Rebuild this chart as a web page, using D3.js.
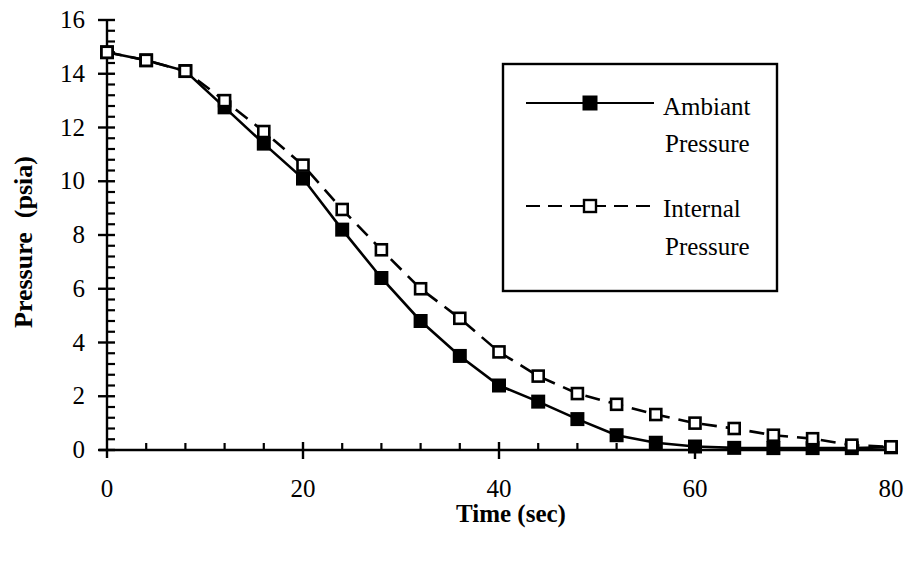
<!DOCTYPE html>
<html>
<head>
<meta charset="utf-8">
<script src="https://cdn.jsdelivr.net/npm/d3@7"></script>
<style>
  html, body { margin: 0; padding: 0; background: #fff; }
  svg { display: block; }
  text { font-family: "Liberation Serif", "Times New Roman", serif; fill: #000; }
</style>
</head>
<body>
<svg id="chart" width="909" height="562"></svg>
<script>
// ---- data ----
const time = [0, 4, 8, 12, 16, 20, 24, 28, 32, 36, 40, 44, 48, 52, 56, 60, 64, 68, 72, 76, 80];
const ambiantPressure = [14.8, 14.5, 14.1, 12.75, 11.4, 10.1, 8.2, 6.4, 4.8, 3.5, 2.4, 1.8, 1.15, 0.55, 0.27, 0.13, 0.08, 0.07, 0.07, 0.07, 0.1];
const internalPressure = [14.8, 14.5, 14.1, 13.0, 11.85, 10.6, 8.95, 7.45, 6.0, 4.9, 3.65, 2.75, 2.1, 1.7, 1.32, 1.0, 0.8, 0.55, 0.42, 0.18, 0.12];
const xTickLabels = [0, 20, 40, 60, 80];
const yTickLabels = [0, 2, 4, 6, 8, 10, 12, 14, 16];
const seriesNames = [["Ambiant", "Pressure"], ["Internal", "Pressure"]];

(function () {
const svg = d3.select("#chart");
const mLeft = 107, mRight = 891, mTop = 20, mBottom = 450;

const x = d3.scaleLinear().domain([0, 80]).range([mLeft, mRight]);
const y = d3.scaleLinear().domain([0, 16]).range([mBottom, mTop]);

const g = svg.append("g");

// axes lines
g.append("line").attr("x1", mLeft - 8).attr("x2", mRight).attr("y1", mBottom).attr("y2", mBottom)
  .attr("stroke", "#000").attr("stroke-width", 2.4);
g.append("line").attr("x1", mLeft).attr("x2", mLeft).attr("y1", mTop).attr("y2", mBottom + 8)
  .attr("stroke", "#000").attr("stroke-width", 2.4);

// x ticks: minor every 4 going up, major every 20 crossing
const xMinor = d3.range(4, 80, 4).filter(v => v % 20 !== 0);
g.selectAll(".xminor").data(xMinor).enter().append("line")
  .attr("x1", d => x(d)).attr("x2", d => x(d)).attr("y1", mBottom).attr("y2", mBottom - 7)
  .attr("stroke", "#000").attr("stroke-width", 2.2);
g.selectAll(".xmajor").data(xTickLabels.filter(v => v > 0 && v < 80)).enter().append("line")
  .attr("x1", d => x(d)).attr("x2", d => x(d)).attr("y1", mBottom - 8).attr("y2", mBottom + 9)
  .attr("stroke", "#000").attr("stroke-width", 2.4);
g.selectAll(".xlab").data(xTickLabels).enter().append("text")
  .attr("x", d => x(d)).attr("y", mBottom + 47).attr("text-anchor", "middle")
  .attr("font-size", 25).text(d => d);

// y ticks: minor every 0.4 going right, major every 2 crossing
const yMinor = d3.range(0.4, 16, 0.4).map(v => +v.toFixed(1)).filter(v => Math.abs(v / 2 - Math.round(v / 2)) > 1e-6);
g.selectAll(".yminor").data(yMinor).enter().append("line")
  .attr("x1", mLeft).attr("x2", mLeft + 8).attr("y1", d => y(d)).attr("y2", d => y(d))
  .attr("stroke", "#000").attr("stroke-width", 2.2);
g.selectAll(".ymajor").data(yTickLabels).enter().append("line")
  .attr("x1", mLeft - 9).attr("x2", mLeft + 8).attr("y1", d => y(d)).attr("y2", d => y(d))
  .attr("stroke", "#000").attr("stroke-width", 2.4);
g.selectAll(".ylab").data(yTickLabels).enter().append("text")
  .attr("x", mLeft - 22).attr("y", d => y(d) + 8).attr("text-anchor", "end")
  .attr("font-size", 25).text(d => d);

// axis titles
svg.append("text").attr("x", 511).attr("y", 522).attr("text-anchor", "middle")
  .attr("font-size", 25).attr("font-weight", "bold").text("Time (sec)");
const yt = svg.append("text").attr("transform", "translate(32,328) rotate(-90)").attr("text-anchor", "start")
  .attr("font-size", 26).attr("font-weight", "bold");
yt.append("tspan").text("Pressure");
yt.append("tspan").attr("dx", 14).text("(psia)");

// series
const ambData = time.map((t, i) => ({ t, p: ambiantPressure[i] }));
const intData = time.map((t, i) => ({ t, p: internalPressure[i] }));
const line = d3.line().x(d => x(d.t)).y(d => y(d.p));

svg.append("path").datum(ambData).attr("d", line).attr("fill", "none")
  .attr("stroke", "#000").attr("stroke-width", 2.6);
svg.append("path").datum(intData).attr("d", line).attr("fill", "none")
  .attr("stroke", "#000").attr("stroke-width", 2.6).attr("stroke-dasharray", "15,9");

const ms = 14;
svg.selectAll(".amb").data(ambData).enter().append("rect")
  .attr("x", d => x(d.t) - ms / 2).attr("y", d => y(d.p) - ms / 2)
  .attr("width", ms).attr("height", ms).attr("fill", "#000");
svg.selectAll(".int").data(intData).enter().append("rect")
  .attr("x", d => x(d.t) - (ms - 3) / 2).attr("y", d => y(d.p) - (ms - 3) / 2)
  .attr("width", ms - 3).attr("height", ms - 3).attr("fill", "#fff")
  .attr("stroke", "#000").attr("stroke-width", 2.6);

// legend
const lg = svg.append("g");
lg.append("rect").attr("x", 503).attr("y", 64).attr("width", 274).attr("height", 227)
  .attr("fill", "#fff").attr("stroke", "#000").attr("stroke-width", 2.4);
lg.append("line").attr("x1", 526).attr("x2", 654).attr("y1", 103).attr("y2", 103)
  .attr("stroke", "#000").attr("stroke-width", 2.2);
lg.append("rect").attr("x", 590 - 7.5).attr("y", 103 - 7.5).attr("width", 15).attr("height", 15).attr("fill", "#000");
lg.append("text").attr("x", 663).attr("y", 115).attr("font-size", 25).text(seriesNames[0][0]);
lg.append("text").attr("x", 665).attr("y", 152).attr("font-size", 25).text(seriesNames[0][1]);
lg.append("line").attr("x1", 526).attr("x2", 654).attr("y1", 206).attr("y2", 206)
  .attr("stroke", "#000").attr("stroke-width", 2.2).attr("stroke-dasharray", "14,8");
lg.append("rect").attr("x", 590 - 6).attr("y", 206 - 6).attr("width", 12).attr("height", 12)
  .attr("fill", "#fff").attr("stroke", "#000").attr("stroke-width", 2.4);
lg.append("text").attr("x", 663).attr("y", 217).attr("font-size", 25).text(seriesNames[1][0]);
lg.append("text").attr("x", 665).attr("y", 255).attr("font-size", 25).text(seriesNames[1][1]);
})();
</script>
</body>
</html>
